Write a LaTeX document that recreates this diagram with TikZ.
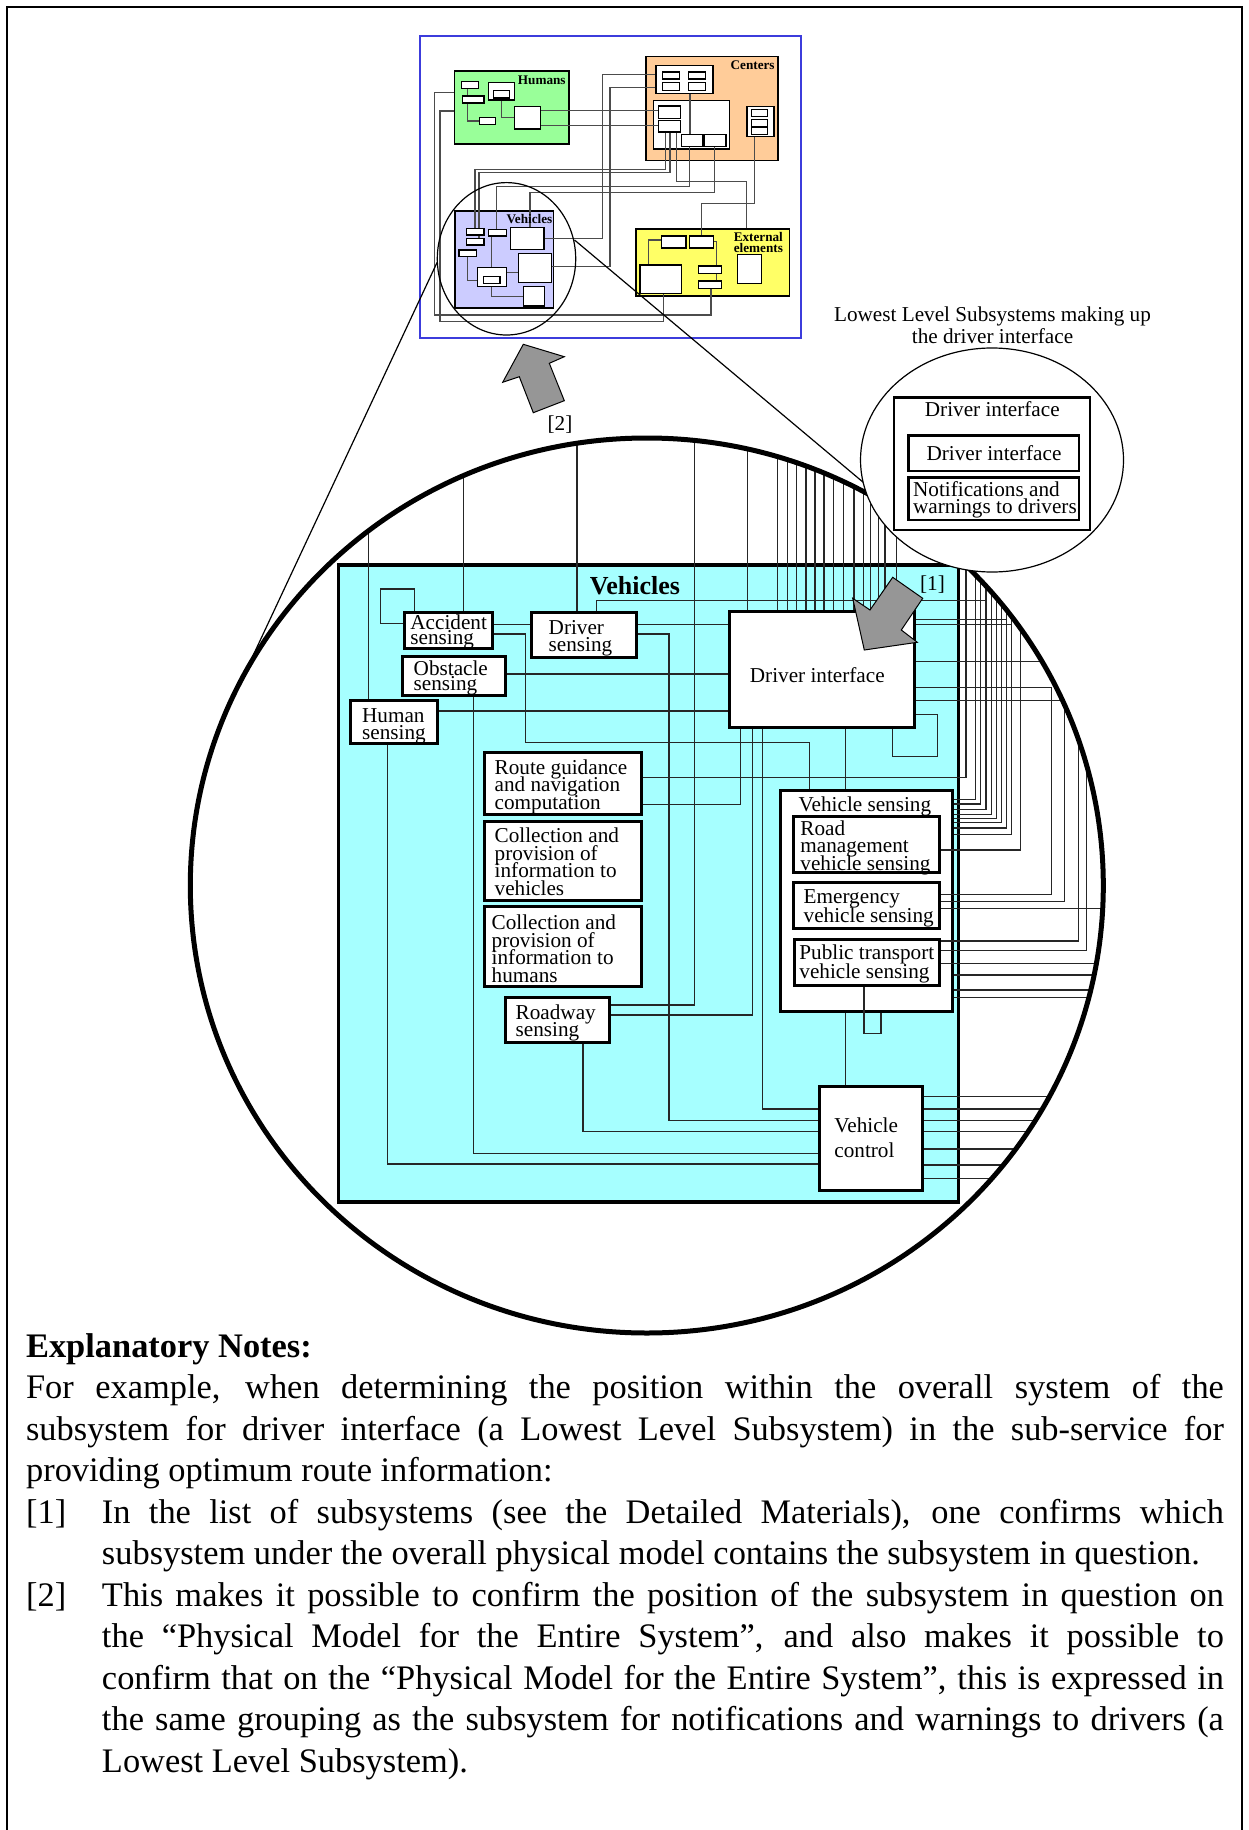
\documentclass[tikz,border=0pt]{standalone}
\usepackage{fontspec}
\setmainfont{Liberation Serif}
\usetikzlibrary{fit}
\pgfdeclarelayer{bg}
\pgfdeclarelayer{wires}
\pgfsetlayers{bg,wires,main}
\definecolor{vcyan}{RGB}{166,255,255}
\definecolor{hgreen}{RGB}{153,255,153}
\definecolor{corange}{RGB}{255,204,153}
\definecolor{vlav}{RGB}{204,204,255}
\definecolor{eyellow}{RGB}{255,255,102}
\definecolor{fblue}{RGB}{60,60,220}
\definecolor{agray}{RGB}{150,150,150}
% multi-line labels: left, centred and right aligned, fixed line pitch
\newcommand\ml[2]{\vtop{\baselineskip=#1\lineskiplimit=-\maxdimen\lineskip=0pt\halign{##\hfil\cr#2\crcr}}}
\newcommand\mc[2]{\vtop{\baselineskip=#1\lineskiplimit=-\maxdimen\lineskip=0pt\halign{\hfil##\hfil\cr#2\crcr}}}
\newcommand\mr[2]{\vtop{\baselineskip=#1\lineskiplimit=-\maxdimen\lineskip=0pt\halign{\hfil##\cr#2\crcr}}}
\begin{document}
\begin{tikzpicture}[x=0.5pt,y=-0.5pt,
  grp/.style={draw=black, line width=0.8pt, inner sep=0pt},
  sb/.style={draw=black, fill=white, line width=0.55pt, inner sep=0pt},
  sw/.style={line width=0.6pt, draw=black!70},
  bb/.style={draw=black, fill=white, line width=1.5pt, inner sep=0pt},
  wr/.style={line width=0.55pt, draw=black!85},
  lbl/.style={anchor=base west, inner sep=0pt, font=\fontsize{10.6}{10}\selectfont},
  clbl/.style={anchor=base, inner sep=0pt, font=\fontsize{10.6}{10}\selectfont},
  glbl/.style={anchor=base east, inner sep=0pt, font=\fontsize{6.6}{6}\selectfont\bfseries},
  garrow/.style={fill=agray, draw=black, line width=0.5pt, line join=miter},
]
\useasboundingbox (0,0) rectangle (1248,1830);

% page frame
\draw[line width=0.6pt] (7,1830) -- (7,7) -- (1242,7) -- (1242,1830);

\coordinate (bigc) at (646.8,885.5);
\coordinate (dicc) at (992,460);
\coordinate (scc) at (506.5,258.8);

% ---------------- group fills and containers ----------------
\begin{pgfonlayer}{bg}
  \node[draw=fblue, line width=0.6pt, inner sep=0pt, fit={(420,36) (801,338)}] (ov) {};
  \node[grp, fill=hgreen, fit={(454.3,71) (569,144)}] (hu) {};
  \node[grp, fill=corange, fit={(646,56.7) (778,160.7)}] (ce) {};
  \node[sb, fit={(656,65.3) (713,93.3)}] (ce1) {};
  \node[sb, fit={(653.3,100.3) (729.3,149)}] (ce2) {};
  \node[sb, fit={(747,106.3) (774,136.3)}] (ce3) {};
  \node[grp, fill=vlav, fit={(455,211) (553.3,308)}] (ve) {};
  \node[grp, fill=eyellow, fit={(636,229.3) (789.3,296)}] (ex) {};
  \node[draw=black, fill=vcyan, line width=1.9pt, inner sep=0pt, fit={(338.5,565) (958.5,1202)}] (veh) {};
  \node[bb, fit={(780.7,790) (952,1011.7)}] (vs) {};
\end{pgfonlayer}

% ---------------- overview: small boxes ----------------
\node[sb, fit={(461.7,81.7) (478.7,88.3)}] (hu1) {};
\node[sb, fit={(462.3,96) (484,103)}] (hu2) {};
\node[sb, fit={(488.7,82.7) (514.3,100)}] (hu3) {};
\node[sb, fit={(493.3,90.7) (509.3,98)}] (hu3i) {};
\node[sb, fit={(479.3,117.7) (495.3,124.3)}] (hu4) {};
\node[sb, fit={(514.3,106.3) (540.3,129)}] (hu5) {};

\node[sb, fit={(662.7,72) (679.7,79)}] (ce1a) {};
\node[sb, fit={(688.7,72) (705.3,79)}] (ce1b) {};
\node[sb, fit={(662.7,82.7) (679.7,90.3)}] (ce1c) {};
\node[sb, fit={(688.7,82.7) (705.3,90.3)}] (ce1d) {};
\node[sb, fit={(658.3,106) (680.3,118.7)}] (ce2a) {};
\node[sb, fit={(658.3,120.3) (680.3,132)}] (ce2b) {};
\node[sb, fit={(681.3,134.3) (702.7,146.7)}] (ce2c) {};
\node[sb, fit={(704,134.3) (726,146.7)}] (ce2d) {};
\node[sb, fit={(751.7,109.3) (767.7,116.3)}] (ce3a) {};
\node[sb, fit={(751.7,119.3) (767.7,126.3)}] (ce3b) {};
\node[sb, fit={(751.7,127.3) (767.7,134.7)}] (ce3c) {};

\node[sb, fit={(466.7,228.7) (484,235)}] (ve1) {};
\node[sb, fit={(466.7,238.7) (484,245)}] (ve2) {};
\node[sb, fit={(488.7,229.3) (506.7,236)}] (ve3) {};
\node[sb, fit={(510.7,227.7) (544,249.3)}] (ve4) {};
\node[sb, fit={(459,250) (476.3,256.7)}] (ve5) {};
\node[sb, fit={(518.3,253.3) (551.3,282.3)}] (ve6) {};
\node[sb, fit={(477.7,267.3) (506.3,286.7)}] (ve7) {};
\node[sb, fit={(483.3,276.7) (500,283.7)}] (ve7i) {};
\node[sb, fit={(523.3,286.7) (544.7,306)}] (ve8) {};

\node[sb, fit={(661.7,236) (686,248)}] (ex1) {};
\node[sb, fit={(689.3,236) (713.3,248)}] (ex2) {};
\node[sb, fit={(640,265) (681.3,293.3)}] (ex3) {};
\node[sb, fit={(698.3,266) (721.7,273.3)}] (ex4) {};
\node[sb, fit={(698.3,281) (721.7,288.3)}] (ex5) {};
\node[sb, fit={(737.3,254.3) (761.3,283.3)}] (ex6) {};

\node[glbl] (hu-t) at (566,85) {Humans};
\node[glbl] (ce-t) at (775,70) {Centers};
\node[glbl] (ve-t) at (552.7,224) {Vehicles};
\node[glbl] (ex-t) at (783.3,241.7) {\mr{5.5pt}{External\cr elements}};

% ---------------- main diagram boxes ----------------
\node[bb, fit={(404.3,612.3) (492.3,648.3)}] (acc) {};
\node[bb, fit={(531,612.7) (636.3,657.3)}] (drs) {};
\node[bb, fit={(402.3,656.7) (505,695.3)}] (obs) {};
\node[bb, fit={(350.7,700.7) (437.7,743.3)}] (hum) {};
\node[bb, fit={(484.3,752.7) (641,814)}] (rgn) {};
\node[bb, fit={(484.3,821.7) (641,900.7)}] (cpv) {};
\node[bb, fit={(484.3,906.7) (641,986.7)}] (cph) {};
\node[bb, fit={(505.3,997) (609,1042)}] (rws) {};
\node[bb, fit={(729.3,611.7) (914.3,727.3)}] (di) {};
\node[bb, fit={(793,816.3) (939,872.7)}] (rm) {};
\node[bb, fit={(793,882.3) (939,928)}] (ev) {};
\node[bb, fit={(794.7,939) (939,985)}] (pt) {};
\node[bb, fit={(819.8,1086) (922.9,1190)}] (vc) {};

% ---------------- connectors ----------------
\begin{pgfonlayer}{wires}
  % overview wiring
  \begin{scope}[sw]
    \draw (hu.west |- 0,92.7) -| (434.3,315) -| (ex5.south -| 711,0);
    \draw (hu.west |- 0,111) -| (440,321.7) -| (ex3.south -| 663.3,0);
    \draw (hu5.east |- 0,110.7) -- (ce2a.west |- 0,110.7);
    \draw (hu5.east |- 0,125.7) -- (ce2b.west |- 0,125.7);
    \draw (ce1.west |- 0,74.3) -| (602.3,238.7) -- (ve4.east |- 0,238.7);
    \draw (ce1.west |- 0,87.3) -| (610,266.7) -- (ve6.east |- 0,266.7);
    \draw (ce2b.south -| 665.7,0) |- (475,169.3) -- (ve1.north -| 475,0);
    \draw (ce2b.south -| 670,0) |- (479,172.7) -- (ve2.north -| 479,0);
    \draw (ce2b.south -| 676.7,0) |- (746.7,181.7) -- (ex.north -| 746.7,0);
    \draw (ce2c.south -| 689.3,0) |- (496.7,186.7) -- (ve3.north -| 496.7,0);
    \draw (ce2d.south -| 714.3,0) |- (530,192.7) -- (ve4.north -| 530,0);
    \draw (ce3.south -| 754.3,0) |- (701.7,203.3) -- (ex2.north -| 701.7,0);
    \draw (ce1.south -| 690,0) -- (ce2c.north -| 690,0);
    \draw (hu1.south -| 467.3,0) |- (hu4.west);
    \draw (hu3.south -| 501.7,0) |- (hu5.west |- 0,117.3);
    \draw (ve5.south -| 467.3,0) |- (ve7i.west);
    \draw (ve3.south -| 491.7,0) -- (ve7.north -| 491.7,0);
    \draw (ve7.east |- 0,272.3) -- (ve6.west |- 0,272.3);
    \draw (ve7.south -| 491.7,0) |- (ve8.west |- 0,296.7);
    \draw (ex1.west |- 0,240) -| (ex3.north -| 648.7,0);
    \draw (ex2.east |- 0,241.7) -| (ex5.north -| 716.7,0);
  \end{scope}
  % main diagram wiring, cut off at the magnifier circle
  \begin{scope}[wr]
    \clip (bigc) ellipse [x radius=456.5, y radius=447.5];
    \draw (368.3,420) -- (hum.north -| 368.3,0);
    \draw (463.7,420) -- (acc.north -| 463.7,0);
    \draw (577,420) -- (drs.north -| 577,0);
    \draw (694.3,420) |- (rws.east |- 0,1005);
    \foreach \x in {747.5,777.7,787.3,796.7,806,815,824,833.3,843.3,854,863.3,870.7,878.3,885,896.7}
      \draw (\x,420) -- (di.north -| \x,0);
    \draw (drs.north -| 596.7,0) |- (986,600.7);
    \draw (rgn.east |- 0,777.7) -| (966,420);
    \draw (vs.east |- 0,799.3) -| (975.7,420);
    \draw (vs.east |- 0,804) -| (980.7,420);
    \draw (vs.east |- 0,809.3) -| (986,420);
    \draw (vs.east |- 0,814.6) -| (991.7,420);
    \draw (vs.east |- 0,818.3) -| (996.7,420);
    \draw (vs.east |- 0,822.7) -| (1001.7,420);
    \draw (vs.east |- 0,828) -| (1006.7,420);
    \draw (vs.east |- 0,834.3) -| (1011.7,420);
    \draw (rm.east |- 0,850) -| (1020.7,420);
    \draw (di.east |- 0,619.3) -- (1006.7,619.3);
    \draw (di.east |- 0,624.3) -- (1011.7,624.3);
    \draw (di.east |- 0,661.7) -- (1120,661.7);
    \draw (di.east |- 0,687.3) -| (1051.7,894.3) -- (ev.east |- 0,894.3);
    \draw (di.east |- 0,700.7) -| (1064.3,901.7) -- (ev.east |- 0,901.7);
    \draw (ev.east |- 0,908.3) -- (1120,908.3);
    \draw (pt.east |- 0,941) -| (1078.3,420);
    \draw (pt.east |- 0,950.7) -| (1086.7,420);
    \draw (pt.east |- 0,963.3) -- (1120,963.3);
    \foreach \y in {975,990,997.3}
      \draw (vs.east |- 0,\y) -- (1120,\y);
    \draw (di.south -| 892.7,0) |- (937.3,756.7) |- (di.east |- 0,714.3);
    \draw (di.south -| 845.7,0) -- (vs.north -| 845.7,0);
    \draw (rgn.east |- 0,804.3) -| (di.south -| 740.5,0);
    \draw (rws.east |- 0,1015) -| (di.south -| 752.3,0);
    \draw (vc.west |- 0,1109) -| (di.south -| 762.7,0);
    \draw (acc.west |- 0,623.3) -| (380.7,589) -| (acc.north -| 414.3,0);
    \draw (acc.east |- 0,624.3) -- (drs.west |- 0,624.3);
    \draw (drs.east |- 0,624.3) -- (di.west |- 0,624.3);
    \draw (acc.east |- 0,634) -| (525.7,742.3) -| (vs.north -| 809.3,0);
    \draw (drs.east |- 0,634) -| (669,1120.7) -- (vc.west |- 0,1120.7);
    \draw (obs.east |- 0,674) -- (di.west |- 0,674);
    \draw (hum.east |- 0,711) -- (di.west |- 0,711);
    \draw (hum.south -| 387.7,0) |- (vc.west |- 0,1164);
    \draw (obs.south -| 473.3,0) |- (vc.west |- 0,1153.3);
    \draw (rws.south -| 583,0) |- (vc.west |- 0,1131.7);
    \draw (vs.south -| 845.7,0) -- (vc.north -| 845.7,0);
    \draw (pt.south -| 864,0) |- (881,1033.3) -- (vs.south -| 881,0);
    \foreach \y in {1096.7,1109,1120.7,1131.7,1149,1165,1178.3}
      \draw (vc.east |- 0,\y) -- (1120,\y);
  \end{scope}
\end{pgfonlayer}

% ---------------- box texts ----------------
\node[anchor=base, inner sep=0pt, font=\fontsize{13}{13}\selectfont\bfseries] (veh-t) at (635,594.3) {Vehicles};
\node[lbl] (acc-t) at (410,629.8) {\ml{7.1pt}{Accident\cr sensing}};
\node[lbl] (drs-t) at (548.3,634.3) {\ml{8.35pt}{Driver\cr sensing}};
\node[lbl] (obs-t) at (413.3,675.8) {\ml{7.5pt}{Obstacle\cr sensing}};
\node[lbl] (hum-t) at (361.7,722.3) {\ml{8.5pt}{Human\cr sensing}};
\node[lbl] (rgn-t) at (494.3,774) {\ml{8.9pt}{Route guidance\cr and navigation\cr computation}};
\node[lbl] (cpv-t) at (494.3,842.3) {\ml{8.9pt}{Collection and\cr provision of\cr information to\cr vehicles}};
\node[lbl] (cph-t) at (491.3,929.3) {\ml{8.9pt}{Collection and\cr provision of\cr information to\cr humans}};
\node[lbl] (rws-t) at (515.3,1019.3) {\ml{8.65pt}{Roadway\cr sensing}};
\node[clbl] (di-t) at (817.3,682.7) {Driver interface};
\node[lbl] (vs-t) at (798.3,811.7) {Vehicle sensing};
\node[lbl] (rm-t) at (800,835) {\ml{8.9pt}{Road\cr management\cr vehicle sensing}};
\node[lbl] (ev-t) at (803.3,903.3) {\ml{9.5pt}{Emergency\cr vehicle sensing}};
\node[lbl] (pt-t) at (799,959.3) {\ml{9.35pt}{Public transport\cr vehicle sensing}};
\node[lbl] (vc-t) at (834,1132.7) {\ml{12.3pt}{Vehicle\cr control}};

% ---------------- magnifier circles and leader lines ----------------
\draw[line width=0.6pt] (scc) ellipse [x radius=69.2, y radius=76.2];
\draw[line width=2.5pt] (bigc) ellipse [x radius=456.5, y radius=447.5];
\coordinate (sc-l) at (437.3,262);
\coordinate (bc-l) at (240.2,683);
\coordinate (sc-r) at (574.5,240);
\coordinate (dc-l) at (870,488);
\draw[line width=0.6pt] (sc-l) -- (bc-l);
\draw[line width=0.6pt] (sc-r) -- (dc-l);

% driver interface detail
\draw[fill=white, line width=0.6pt] (dicc) ellipse [x radius=131.5, y radius=112];
\node[bb, line width=1.4pt, fit={(894,397.3) (1090,530)}] (dio) {};
\node[bb, line width=1.4pt, fit={(908.3,435.7) (1079,471)}] (dii) {};
\node[bb, line width=1.4pt, fit={(908.3,477.7) (1079,520)}] (dnw) {};
\node[clbl] (dio-t) at (992.3,416) {Driver interface};
\node[clbl] (dii-t) at (994,460) {Driver interface};
\node[lbl] (dnw-t) at (912.7,496.3) {\ml{8.5pt}{Notifications and\cr warnings to drivers}};
\node[clbl] (title) at (992.5,321.7) {\mc{10.8pt}{Lowest Level Subsystems making up\cr the driver interface}};

% ---------------- pointer arrows ----------------
\draw[garrow] (892.7,577.3) -- (922.7,598.3) -- (901.3,630) -- (917.3,642.3) -- (864.3,650) -- (852.7,598.3) -- (870,610) -- cycle;
\node[clbl] (m1) at (932.5,590) {[1]};
\draw[garrow] (523.3,344.3) -- (564.3,356.7) -- (549.3,363.3) -- (564.3,400.7) -- (533.3,412.7) -- (519.3,376.7) -- (502.7,382.3) -- cycle;
\node[clbl] (m2) at (560,430) {[2]};

% ---------------- explanatory notes ----------------
\node[anchor=base west, inner sep=0pt, font=\fontsize{17.2}{20.75}\selectfont] (notes) at (25.7,1357) {\vtop{\hsize=598.9pt\baselineskip=20.75pt\lineskiplimit=-\maxdimen\lineskip=0pt
\hbox{\bfseries Explanatory Notes:}
\hbox to\hsize{For example, when determining the position within the overall system of the}
\hbox to\hsize{subsystem for driver interface (a Lowest Level Subsystem) in the sub-service for}
\hbox{providing optimum route information:}
\hbox to\hsize{\hbox to37.95pt{[1]\hfil}In the list of subsystems (see the Detailed Materials), one confirms which}
\hbox{\hskip37.95pt\relax subsystem under the overall physical model contains the subsystem in question.}
\hbox to\hsize{\hbox to37.95pt{[2]\hfil}This makes it possible to confirm the position of the subsystem in question on}
\hbox to\hsize{\hskip37.95pt\relax the “Physical Model for the Entire System”, and also makes it possible to}
\hbox to\hsize{\hskip37.95pt\relax confirm that on the “Physical Model for the Entire System”, this is expressed in}
\hbox to\hsize{\hskip37.95pt\relax the same grouping as the subsystem for notifications and warnings to drivers (a}
\hbox{\hskip37.95pt\relax Lowest Level Subsystem).}
}};
\end{tikzpicture}
\end{document}
